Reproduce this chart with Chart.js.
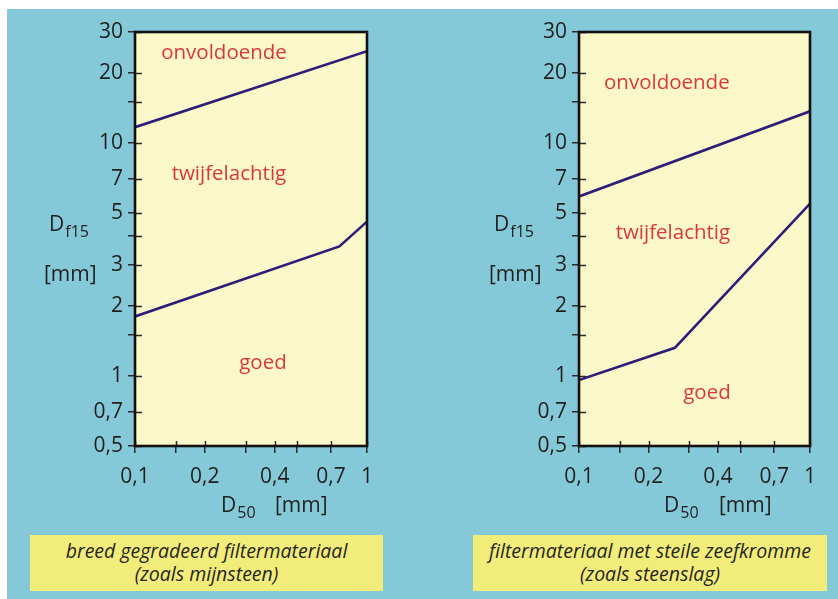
<!DOCTYPE html>
<html>
<head>
<meta charset="utf-8">
<script src="https://cdn.jsdelivr.net/npm/chart.js@4"></script>
<style>
  html, body { margin:0; padding:0; background:#ffffff; }
  body { width:838px; height:599px; position:relative; overflow:hidden; font-family:'Open Sans', sans-serif; }
  #bg { position:absolute; left:7px; top:9px; right:0; bottom:0; background:#85c9d9; }
  canvas { position:absolute; top:0; }
  .t { position:absolute; font-size:21px; line-height:21px; color:#1f1f1f; white-space:nowrap; }
  .sub { font-size:16px; position:relative; top:6px; margin-left:1px; }
  .cap { position:absolute; top:535px; height:56px; background:#f2ed7a; font-style:italic; font-size:19.5px;
         line-height:23px; text-align:center; color:#262626; box-sizing:border-box; padding-top:4px; }
</style>
</head>
<body>
<div id="bg"></div>
<canvas id="c1" width="419" height="599" style="left:0px;width:419px;height:599px"></canvas>
<canvas id="c2" width="419" height="599" style="left:419px;width:419px;height:599px"></canvas>

<div class="t" style="left:49px;top:213px">D<span class="sub">f15</span></div>
<div class="t" style="left:44px;top:263px">[mm]</div>
<div class="t" style="left:221px;top:494px">D<span class="sub">50</span></div>
<div class="t" style="left:275px;top:494px">[mm]</div>
<div class="cap" style="left:30px;width:353px">breed gegradeerd filtermateriaal<br>(zoals mijnsteen)</div>

<div class="t" style="left:494px;top:213px">D<span class="sub">f15</span></div>
<div class="t" style="left:489px;top:263px">[mm]</div>
<div class="t" style="left:664px;top:494px">D<span class="sub">50</span></div>
<div class="t" style="left:719px;top:494px">[mm]</div>
<div class="cap" style="left:473px;width:354px">filtermateriaal met steile zeefkromme<br>(zoals steenslag)</div>

<script>
// ---- data ----
const xTickValues = [0.1, 0.15, 0.2, 0.3, 0.4, 0.5, 0.7, 1];
const xTickLabels = ['0,1', '', '0,2', '', '0,4', '', '0,7', '1'];
const yTickValues = [0.5, 0.7, 1, 1.5, 2, 3, 4, 5, 7, 10, 15, 20, 30];
const yTickLabels = ['0,5', '0,7', '1', '', '2', '3', '', '5', '7', '10', '', '20', '30'];

// left panel: breed gegradeerd filtermateriaal
const leftUpperD50 = [0.1, 1];
const leftUpperDf15 = [11.7, 24.8];
const leftLowerD50 = [0.1, 0.76, 1];
const leftLowerDf15 = [1.8, 3.6, 4.6];

// right panel: filtermateriaal met steile zeefkromme
const rightUpperD50 = [0.1, 1];
const rightUpperDf15 = [5.9, 13.7];
const rightLowerD50 = [0.1, 0.26, 1];
const rightLowerDf15 = [0.96, 1.32, 5.5];

const regionNames = ['onvoldoende', 'twijfelachtig', 'goed'];
const leftRegionD50 = [0.242, 0.254, 0.356];
const leftRegionDf15 = [24.3, 7.35, 1.14];
const rightRegionD50 = [0.240, 0.255, 0.358];
const rightRegionDf15 = [18.1, 4.1, 0.845];

// ---- rendering ----
Chart.defaults.font.family = "'Open Sans', sans-serif";
const LINE = '#2c1e78';
const pts = (xs, ys) => xs.map((x, i) => ({ x: x, y: ys[i] }));

const panelPlugin = {
  id: 'panel',
  beforeDatasetsDraw(chart) {
    const a = chart.chartArea, ctx = chart.ctx;
    ctx.save();
    ctx.fillStyle = '#faf7c9';
    ctx.fillRect(a.left, a.top, a.right - a.left, a.bottom - a.top);
    ctx.restore();
  },
  afterDraw(chart) {
    const a = chart.chartArea, ctx = chart.ctx;
    const xs = chart.scales.x, ys = chart.scales.y;
    ctx.save();
    // inner tick parts
    ctx.strokeStyle = '#2a2a2a';
    ctx.lineWidth = 1.5;
    ctx.beginPath();
    xTickValues.forEach(v => {
      const px = Math.round(xs.getPixelForValue(v)) + 0.5;
      ctx.moveTo(px, a.bottom); ctx.lineTo(px, a.bottom - 5);
    });
    yTickValues.forEach(v => {
      const py = Math.round(ys.getPixelForValue(v)) + 0.5;
      ctx.moveTo(a.left, py); ctx.lineTo(a.left + 7, py);
    });
    ctx.stroke();
    // frame
    ctx.strokeStyle = '#111111';
    ctx.lineWidth = 2.6;
    ctx.strokeRect(a.left, a.top, a.right - a.left, a.bottom - a.top);
    // region labels
    const o = chart.options.plugins.panel;
    ctx.fillStyle = '#d9383b';
    ctx.font = "20.5px 'Open Sans', sans-serif";
    ctx.textAlign = 'center';
    ctx.textBaseline = 'middle';
    regionNames.forEach((n, i) => {
      ctx.fillText(n, xs.getPixelForValue(o.xs[i]), ys.getPixelForValue(o.ys[i]));
    });
    ctx.restore();
  }
};

function makeChart(id, upper, lower, rx, ry, padLeft, padRight) {
  return new Chart(document.getElementById(id), {
    type: 'line',
    data: {
      datasets: [
        { data: upper, borderColor: LINE, borderWidth: 2.6, pointRadius: 0, fill: false, tension: 0 },
        { data: lower, borderColor: LINE, borderWidth: 2.6, pointRadius: 0, fill: false, tension: 0 }
      ]
    },
    options: {
      responsive: false,
      animation: false,
      layout: { autoPadding: false, padding: { left: padLeft, right: padRight, top: 32, bottom: 103 } },
      plugins: {
        legend: { display: false },
        tooltip: { enabled: false },
        panel: { xs: rx, ys: ry }
      },
      scales: {
        x: {
          type: 'logarithmic', min: 0.1, max: 1,
          afterFit(s) { s.height = 50; },
          afterBuildTicks(s) { s.ticks = xTickValues.map(v => ({ value: v })); },
          ticks: {
            autoSkip: false, maxRotation: 0, padding: 11, color: '#1f1f1f',
            font: { size: 21 },
            callback: (v, i) => xTickLabels[i]
          },
          grid: { drawOnChartArea: false, drawTicks: true, tickLength: 7, color: '#2a2a2a', lineWidth: 1.5 },
          border: { display: false }
        },
        y: {
          type: 'logarithmic', min: 0.5, max: 30,
          afterFit(s) { s.width = 60; },
          afterBuildTicks(s) { s.ticks = yTickValues.map(v => ({ value: v })); },
          ticks: {
            autoSkip: false, padding: 5, color: '#1f1f1f',
            font: { size: 21 },
            callback: (v, i) => yTickLabels[i]
          },
          grid: { drawOnChartArea: false, drawTicks: true, tickLength: 7, color: '#2a2a2a', lineWidth: 1.5 },
          border: { display: false }
        }
      }
    },
    plugins: [panelPlugin]
  });
}

makeChart('c1', pts(leftUpperD50, leftUpperDf15), pts(leftLowerD50, leftLowerDf15),
          leftRegionD50, leftRegionDf15, 75, 52);
makeChart('c2', pts(rightUpperD50, rightUpperDf15), pts(rightLowerD50, rightLowerDf15),
          rightRegionD50, rightRegionDf15, 100, 28);
</script>
</body>
</html>
